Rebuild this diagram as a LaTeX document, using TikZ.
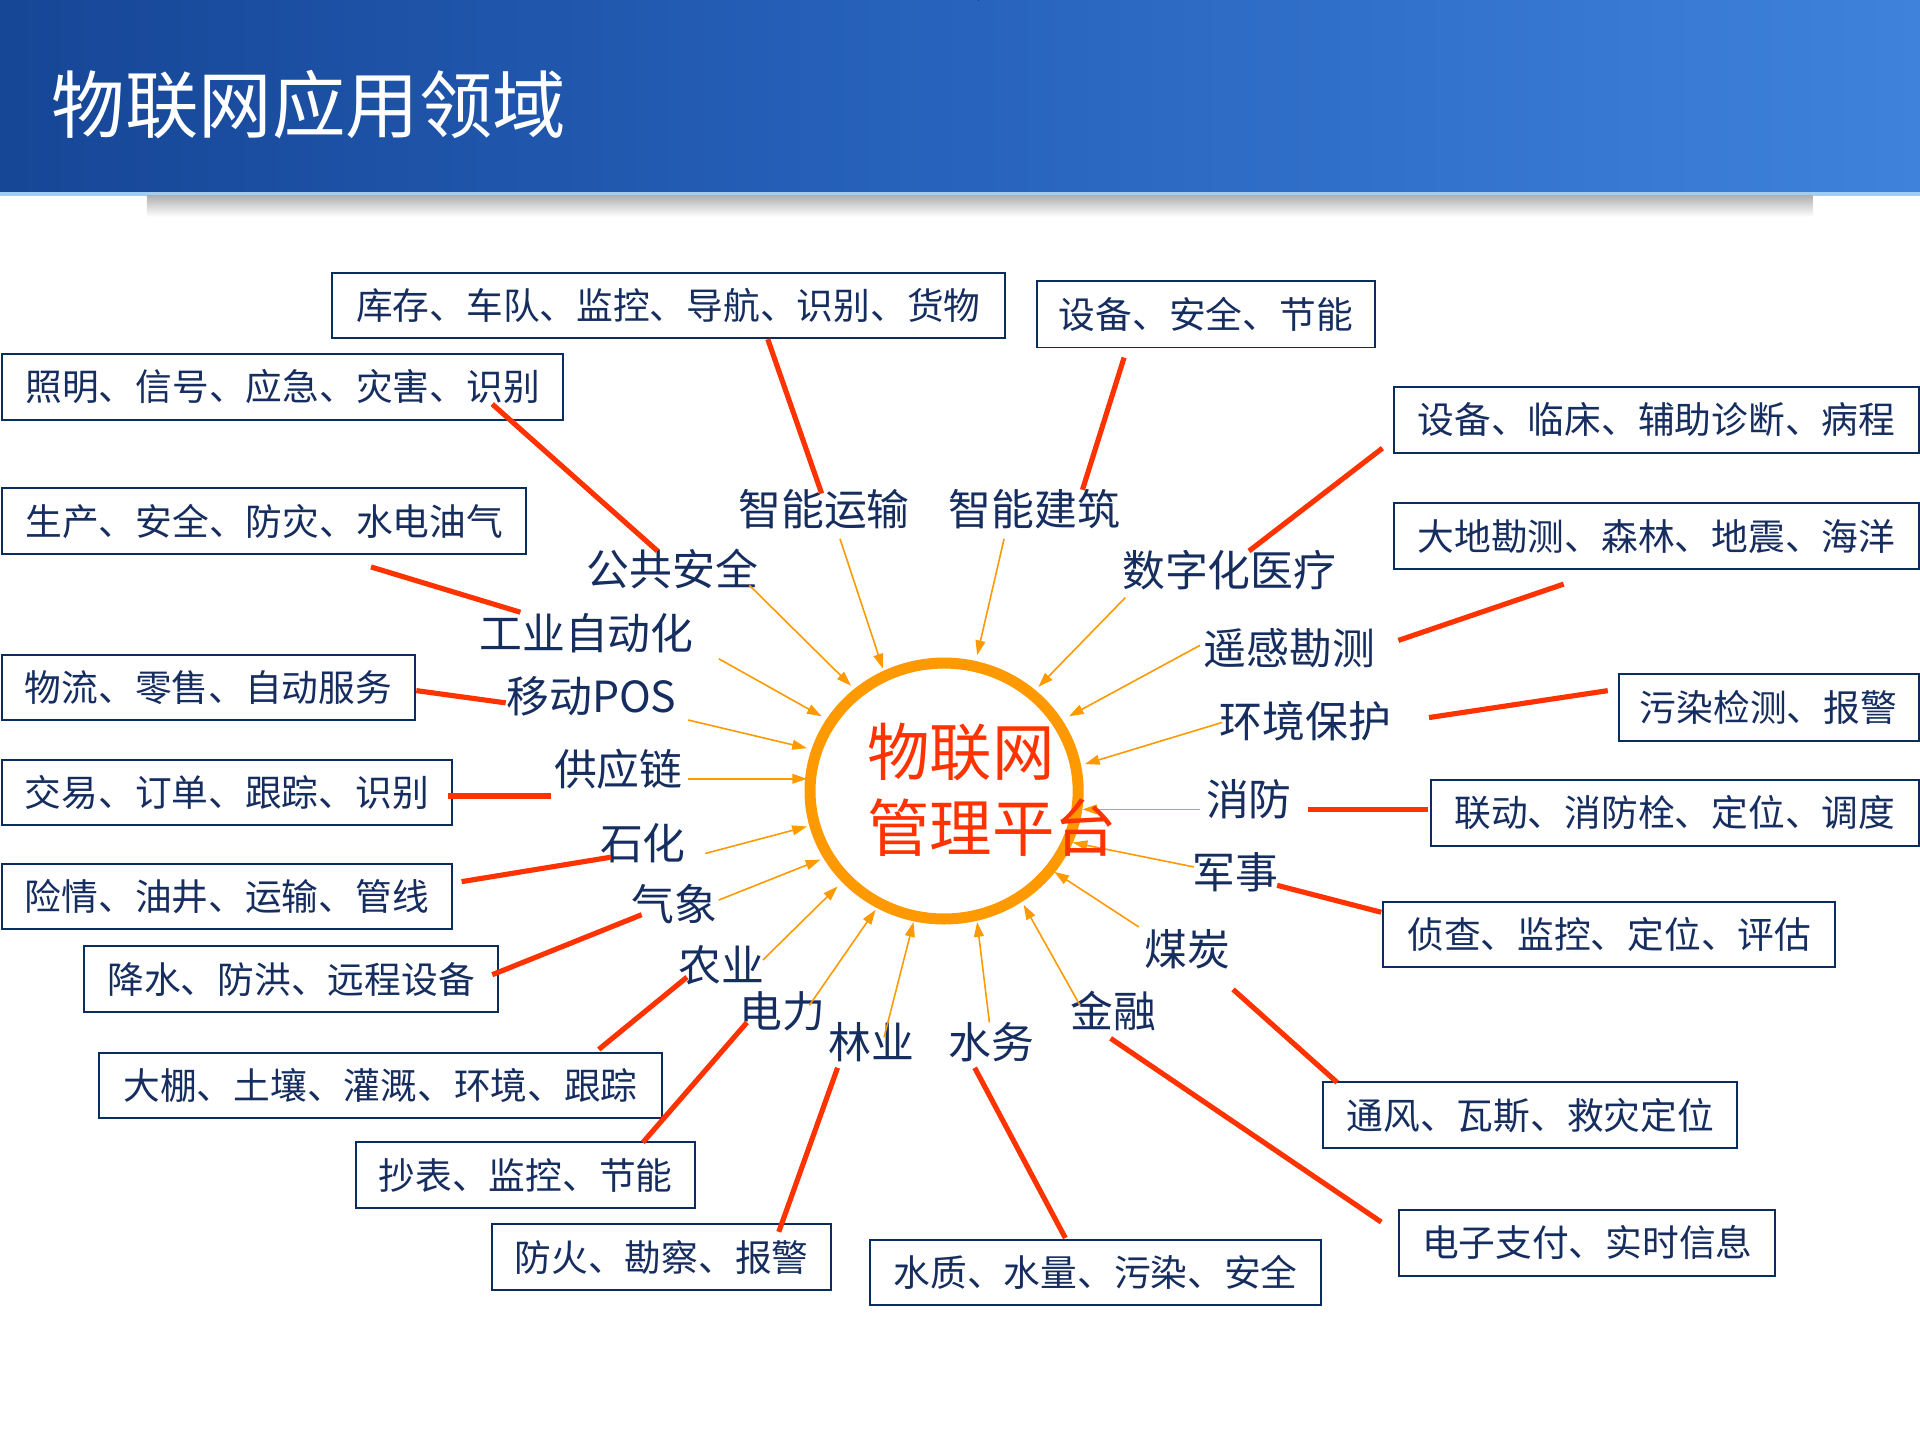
\documentclass[tikz,border=0pt]{standalone}
\usepackage{fontspec}
\setmainfont{Noto Sans CJK SC}
\usetikzlibrary{arrows.meta,shapes.geometric}
\definecolor{navy}{RGB}{22,45,95}
\definecolor{boxline}{RGB}{10,45,95}
\definecolor{redl}{RGB}{255,51,0}
\definecolor{orng}{RGB}{255,153,0}
\definecolor{hdark}{RGB}{22,70,150}
\definecolor{hmid}{RGB}{40,100,190}
\definecolor{hlight}{RGB}{62,130,220}
\definecolor{hstripe}{RGB}{160,205,240}
\begin{document}
\begin{tikzpicture}[x=1pt,y=-1pt,
  box/.style={draw=boxline, line width=1.6pt, fill=white, text=navy,
    font=\fontsize{30}{36}\selectfont, inner sep=0pt, anchor=north west},
  lbl/.style={text=navy, font=\fontsize{35}{40}\selectfont, inner sep=1pt},
  arr/.style={draw=orng, line width=1.3pt, -{Triangle[length=12pt,width=8pt]}},
  link/.style={draw=redl, line width=4.2pt},
  hubtxt/.style={text=redl, font=\fontsize{51}{56}\selectfont, inner sep=0pt, anchor=west}]
\useasboundingbox (0,0) rectangle (1568,1176);
\fill[white] (0,0) rectangle (1568,1176);
% header
\fill[left color=hdark, right color=hmid] (0,0) rectangle (800,157);
\fill[left color=hmid, right color=hlight] (799,0) rectangle (1568,157);
\fill[hstripe] (0,157) rectangle (1568,160);
\shade[top color=black!30, bottom color=white] (120,160) rectangle (1480,177);
\node[anchor=west, text=white, font=\fontsize{60}{60}\selectfont, inner sep=0pt] (title) at (42,85) {物联网应用领域};

% hub
\node[ellipse, draw=orng, line width=9pt, minimum width=219pt, minimum height=209pt, inner sep=0pt] (hub) at (771,646) {};

% boxes
\node[box, minimum width=550pt, minimum height=53pt] (b1) at (270,222) {库存、车队、监控、导航、识别、货物};
\node[box, minimum width=276pt, minimum height=54pt] (b2) at (846,229) {设备、安全、节能};
\node[box, minimum width=458pt, minimum height=54pt] (b3) at (1,288) {照明、信号、应急、灾害、识别};
\node[box, minimum width=428pt, minimum height=54pt] (b4) at (1,398) {生产、安全、防灾、水电油气};
\node[box, minimum width=428pt, minimum height=54pt] (b5) at (1138,315) {设备、临床、辅助诊断、病程};
\node[box, minimum width=428pt, minimum height=54pt] (b6) at (1138,410) {大地勘测、森林、地震、海洋};
\node[box, minimum width=337pt, minimum height=53pt] (b7) at (1,534) {物流、零售、自动服务};
\node[box, minimum width=367pt, minimum height=53pt] (b8) at (1,620) {交易、订单、跟踪、识别};
\node[box, minimum width=245pt, minimum height=54pt] (b9) at (1321,550) {污染检测、报警};
\node[box, minimum width=398pt, minimum height=54pt] (b10) at (1168,636) {联动、消防栓、定位、调度};
\node[box, minimum width=367pt, minimum height=53pt] (b11) at (1,705) {险情、油井、运输、管线};
\node[box, minimum width=338pt, minimum height=54pt] (b12) at (68,772) {降水、防洪、远程设备};
\node[box, minimum width=369pt, minimum height=53pt] (b13) at (1129,736) {侦查、监控、定位、评估};
\node[box, minimum width=460pt, minimum height=53pt] (b14) at (80,859) {大棚、土壤、灌溉、环境、跟踪};
\node[box, minimum width=338pt, minimum height=54pt] (b15) at (1080,883) {通风、瓦斯、救灾定位};
\node[box, minimum width=277pt, minimum height=54pt] (b16) at (290,932) {抄表、监控、节能};
\node[box, minimum width=277pt, minimum height=54pt] (b17) at (401,999) {防火、勘察、报警};
\node[box, minimum width=368pt, minimum height=53pt] (b18) at (710,1012) {水质、水量、污染、安全};
\node[box, minimum width=307pt, minimum height=54pt] (b19) at (1142,987) {电子支付、实时信息};

% labels
\node[lbl] (l1) at (673,416) {智能运输};
\node[lbl] (l2) at (845,416) {智能建筑};
\node[lbl] (l3) at (549,465) {公共安全};
\node[lbl] (l4) at (1004,466) {数字化医疗};
\node[lbl] (l5) at (479,517) {工业自动化};
\node[lbl] (l6) at (1053,529) {遥感勘测};
\node[lbl] (l7) at (483,569) {移动POS};
\node[lbl] (l8) at (1066,589) {环境保护};
\node[lbl] (l9) at (505,628) {供应链};
\node[lbl] (l10) at (1020,653) {消防};
\node[lbl] (l11) at (525,689) {石化};
\node[lbl] (l12) at (1009,712) {军事};
\node[lbl] (l13) at (551,738) {气象};
\node[lbl] (l14) at (970,775) {煤炭};
\node[lbl] (l15) at (589,788) {农业};
\node[lbl] (l16) at (639,826) {电力};
\node[lbl] (l17) at (909,826) {金融};
\node[lbl] (l18) at (712,851) {林业};
\node[lbl] (l19) at (810,851) {水务};

% arrow end points
\foreach \n/\sx/\sy/\tx/\ty in {
  1/686/440/721/546, 2/820/440/798/535, 3/612/478/695/560, 4/919/488/848/561,
  5/587/538/671/585, 6/980/527/873/585, 7/562/588/659/611, 8/998/590/886/624,
  9/562/636/659/636, 10/980/661/884/661, 11/576/697/659/675, 12/975/708/876/688,
  13/587/735/670/702, 14/930/757/861/712, 15/623/784/684/724, 16/661/821/715/743,
  17/882/821/836/739, 18/722/847/746/753, 19/808/835/798/753}{
  \coordinate (as\n) at (\sx,\sy);
  \coordinate (at\n) at (\tx,\ty);
}
\foreach \n in {1,...,19}{\draw[arr] (as\n) -- (at\n);}

% red link end points
\foreach \n/\sx/\sy/\tx/\ty in {
  1/627/277/671/403, 2/918/292/884/400, 3/402/330/537/450, 4/303/463/425/500,
  5/1129/366/1020/450, 6/1277/477/1142/523, 7/340/564/413/574, 8/366/650/450/650,
  9/1313/564/1167/586, 10/1166/661/1068/661, 11/377/720/499/700, 12/402/796/524/747,
  13/1128/745/1043/723, 14/489/857/561/798, 15/1092/884/1007/808, 16/525/933/610/835,
  17/636/1006/684/872, 18/870/1011/796/872, 19/1128/998/907/848}{
  \coordinate (rs\n) at (\sx,\sy);
  \coordinate (rt\n) at (\tx,\ty);
}
\foreach \n in {1,...,19}{\draw[link] (rs\n) -- (rt\n);}

% hub text
\node[hubtxt] (hub1) at (708,614) {物联网};
\node[hubtxt] (hub2) at (708,676) {管理平台};
\end{tikzpicture}
\end{document}
